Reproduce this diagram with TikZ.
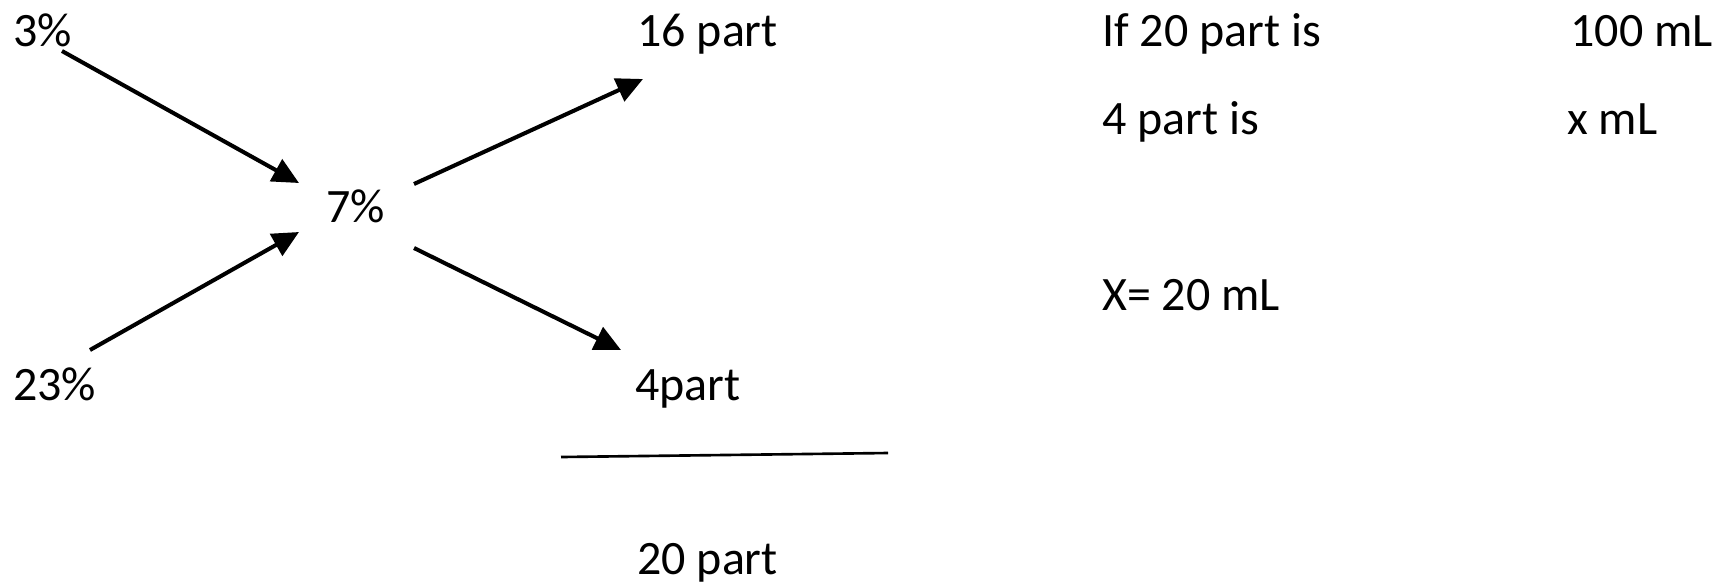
\documentclass[tikz,border=0pt]{standalone}
\usepackage{fontspec}
\setmainfont{Carlito}
\usetikzlibrary{arrows.meta}
\tikzset{
  lbl/.style={anchor=base west,inner sep=0pt,font=\fontsize{27.3}{32}\selectfont},
  arr/.style={line width=2.3pt,-{Triangle[length=15pt,width=14pt]}}
}
\begin{document}
\begin{tikzpicture}[x=0.02cm,y=-0.02cm]
  \useasboundingbox (0,0) rectangle (1716,586);
  % alligation cross
  \node[lbl] (c3) at (13,46) {3\%};
  \node[lbl] (c23) at (13,400) {23\%};
  \node[lbl] (c7) at (326,222) {7\%};
  \node[lbl] (p16) at (637,46) {16 part};
  \node[lbl] (p4) at (635,400) {4part};
  \node[lbl] (p20) at (637,574) {20 part};
  \coordinate (a1) at (62,51);   \coordinate (b1) at (299,183);
  \coordinate (a2) at (90,350);  \coordinate (b2) at (299,232);
  \coordinate (a3) at (414,184); \coordinate (b3) at (643,79);
  \coordinate (a4) at (414,248); \coordinate (b4) at (621,350);
  \draw[arr] (a1) -- (b1);
  \draw[arr] (a2) -- (b2);
  \draw[arr] (a3) -- (b3);
  \draw[arr] (a4) -- (b4);
  \coordinate (f1) at (561,457); \coordinate (f2) at (888,453);
  \draw[line width=1.5pt] (f1) -- (f2);
  % proportion
  \node[lbl] (r1) at (1102,46) {If 20 part is};
  \node[lbl] (r2) at (1570,46) {100 mL};
  \node[lbl] (r3) at (1102,134) {4 part is};
  \node[lbl] (r4) at (1567,134) {x mL};
  \node[lbl] (r5) at (1102,310) {X= 20 mL};
\end{tikzpicture}
\end{document}
